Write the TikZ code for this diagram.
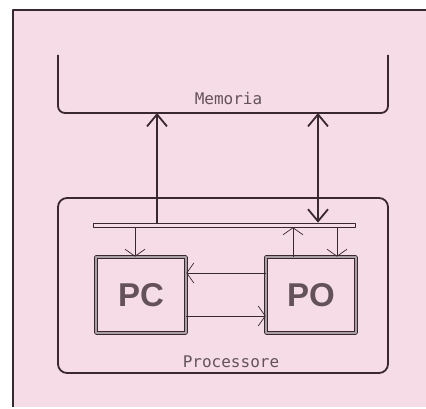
\documentclass[tikz,border=0pt]{standalone}
\usepackage{fontspec}
\usepackage{tikz}
\usetikzlibrary{arrows.meta,positioning}
\newfontfamily\labelfont{DejaVu Sans Mono}
\newfontfamily\blockfont{Liberation Sans}
\definecolor{sheet}{RGB}{246,220,230}
\definecolor{ink}{RGB}{58,40,48}
\definecolor{softink}{RGB}{100,82,90}

\begin{document}
\begin{tikzpicture}[
        x=1pt,
        y=-1pt,
        line join=round,
        frame/.style={draw=ink, line width=1.4pt},
        memory/.style={draw=ink, line width=1.8pt, rounded corners=7pt},
        processor/.style={draw=ink, line width=1.8pt, rounded corners=9pt, minimum width=330pt, minimum height=175pt},
        bus/.style={draw=ink, line width=0.7pt, fill=sheet, minimum width=262pt, minimum height=4pt, inner sep=0pt},
        unit/.style={draw=ink, line width=0.7pt, double=softink!55, double distance=2pt, minimum width=90pt, minimum height=76pt, inner sep=0pt,
            font=\blockfont\fontsize{33}{37}\selectfont\bfseries, text=softink},
        caption/.style={font=\labelfont\fontsize{16}{18}\selectfont, text=softink},
        bigarrow/.style={draw=ink, line width=1.8pt, -{Straight Barb[length=12pt, width=20pt, line width=1.8pt]}},
        smallarrow/.style={draw=ink, line width=0.7pt, -{Straight Barb[length=7pt, width=20pt, line width=0.7pt]}}
    ]
        \useasboundingbox (0,0) rectangle (426,409);

        % Sheet with its left and top edge.
        \fill[sheet] (13,10) rectangle (426,407);
        \draw[frame] (13,407) -- (13,10) -- (426,10);

        % Memory: open bracket with its label.
        \draw[memory] (58,55) -- (58,113) -- (388,113) -- (388,55);
        \node[caption] (memlab) at (228.5,99) {Memoria};
        \coordinate (memL) at (157,113);
        \coordinate (memR) at (318,113);

        % Processor with the bus and the two units.
        \node[processor] (proc) at (223,285.5) {};
        \node[caption] (proclab) at (231,362) {Processore};
        \node[bus] (bus) at (224,225) {};
        \node[unit] (pc) at (141,295) {PC};
        \node[unit] (po) at (311,295) {PO};

        % Memory traffic.
        \draw[bigarrow] (bus.north -| memL) -- (memL);
        \draw[bigarrow, {Straight Barb[length=12pt, width=20pt, line width=1.8pt]}-{Straight Barb[length=12pt, width=20pt, line width=1.8pt]}]
            (memR) -- (bus.north -| memR);

        % Bus to and from the units.
        \coordinate (pcin) at ([xshift=-6pt]pc.north);
        \coordinate (poout) at ([xshift=-18pt]po.north);
        \coordinate (poin) at ([xshift=26pt]po.north);
        \foreach \c in {pcin,poin} {
            \draw[smallarrow] (bus.south -| \c) -- (\c);
        }
        \draw[smallarrow] (poout) -- (bus.south -| poout);

        % Units between themselves.
        \draw[smallarrow] ([yshift=22pt]po.west) -- ([yshift=22pt]pc.east);
        \draw[smallarrow] ([yshift=-21pt]pc.east) -- ([yshift=-21pt]po.west);
    \end{tikzpicture}
\end{document}
